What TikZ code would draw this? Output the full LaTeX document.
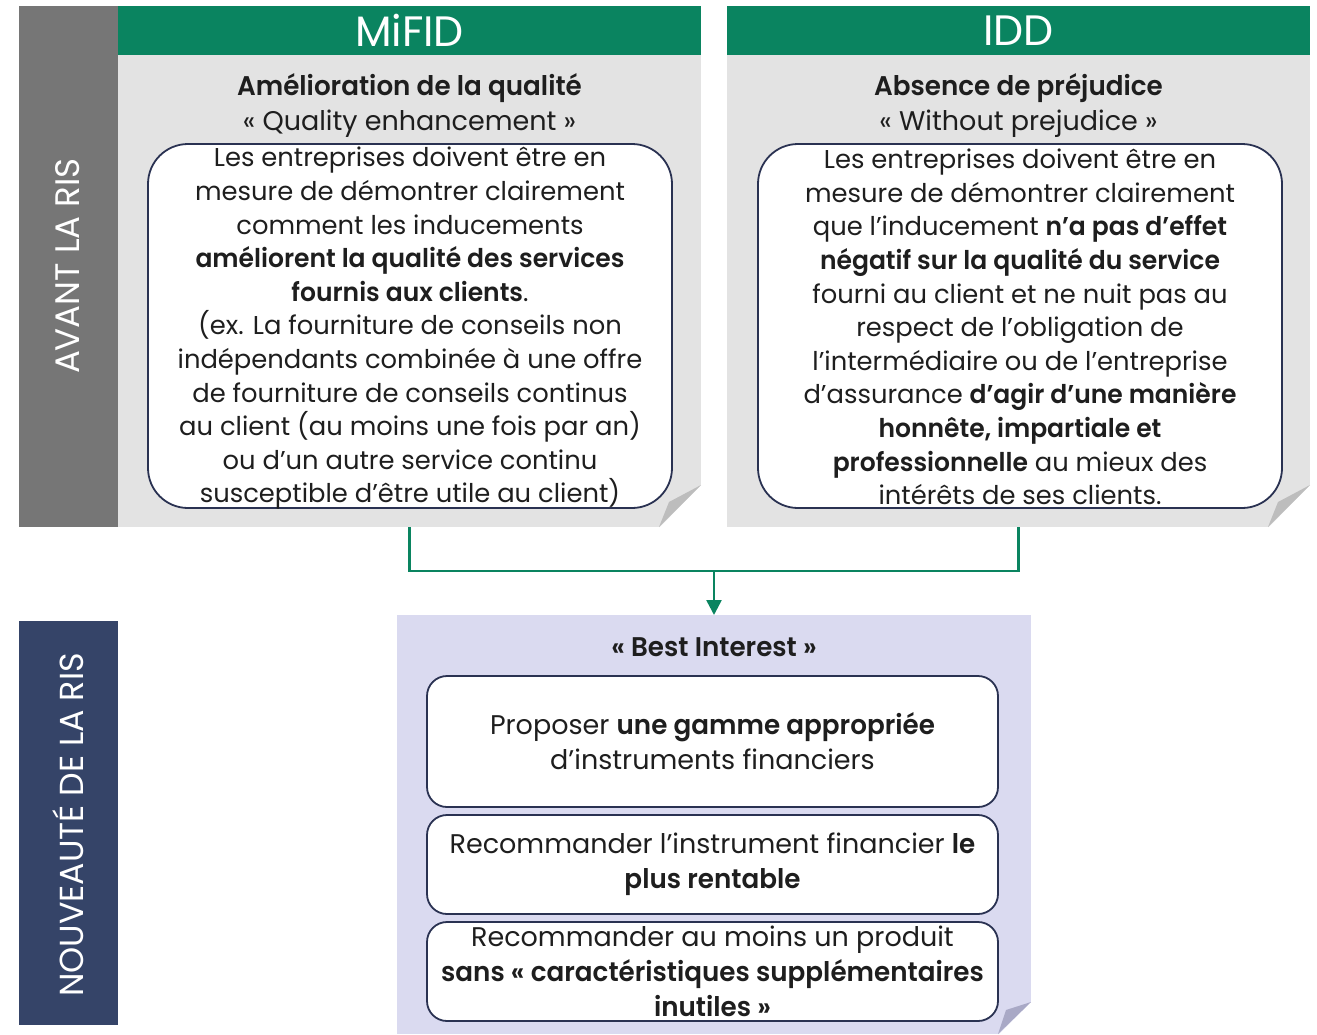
\documentclass[tikz,border=0pt]{standalone}
\usepackage{fontspec}
\setmainfont{Poppins}[BoldFont={Poppins SemiBold},BoldFeatures={FakeStretch=0.97}]
\usetikzlibrary{arrows.meta}
\definecolor{mgreen}{HTML}{0A8460}
\definecolor{bandgray}{HTML}{767676}
\definecolor{panelgray}{HTML}{E3E3E3}
\definecolor{foldgray}{HTML}{BDBDBD}
\definecolor{bandnavy}{HTML}{354468}
\definecolor{lav}{HTML}{DADAF0}
\definecolor{lavfold}{HTML}{A9A9C6}
\definecolor{boxline}{HTML}{2A3252}
\definecolor{txt}{HTML}{1E1E1E}
\begin{document}
\begin{tikzpicture}[x=1pt,y=-1pt,
  blk/.style={rectangle, inner sep=0pt, outer sep=0pt, anchor=north west, draw=none},
  bandtext/.style={text=white, rotate=90, font=\fontsize{34}{38}\selectfont},
  headtext/.style={text=white, font=\fontsize{42.5}{44}\selectfont},
  titletext/.style={text=txt, align=center, font=\fontsize{27}{35}\selectfont},
  bodytext/.style={text=txt, align=center, font=\fontsize{25.8}{33.6}\selectfont},
  wbox/.style={rectangle, draw=boxline, line width=1.8pt, fill=white, inner sep=0pt, align=center, text=txt},
  boxtext/.style={font=\fontsize{27}{35}\selectfont},
  conn/.style={draw=mgreen, line width=2.5pt}
]
\useasboundingbox (0,0) rectangle (1317,1034);

% ---- left bands
\node[blk, fill=bandgray, minimum width=99, minimum height=521] (bandA) at (19,6) {};
\node[bandtext] (bandAt) at (68,266) {AVANT LA RIS};
\node[blk, fill=bandnavy, minimum width=99, minimum height=404] (bandB) at (19,621) {};
\node[bandtext, font=\fontsize{33.3}{38}\selectfont] (bandBt) at (68,825) {NOUVEAUTÉ DE LA RIS};

% ---- MiFID panel
\node[blk, fill=panelgray, minimum width=583, minimum height=472] (pM) at (118,55) {};
\fill[white] (701,485) -- (701,528) -- (659,528) -- cycle;
\fill[foldgray] (701,485) -- (659,527) -- (669,502) -- cycle;
\node[blk, fill=mgreen, minimum width=583, minimum height=49] (hM) at (118,6) {};
\node[headtext] (hMt) at (hM.center) {MiFID};
\node[titletext] (tM) at (409.5,105) {\textbf{Amélioration de la qualité}\\« Quality enhancement »};
\node[wbox, rounded corners=40pt, minimum width=524, minimum height=364] (bM) at (410,326) {};
\node[bodytext] (bMt) at (410,328.5) {Les entreprises doivent être en\\
mesure de démontrer clairement\\
comment les inducements\\
\textbf{améliorent la qualité des services}\\
\textbf{fournis aux clients}.\\
(ex. La fourniture de conseils non\\
indépendants combinée à une offre\\
de fourniture de conseils continus\\
au client (au moins une fois par an)\\
ou d'un autre service continu\\
susceptible d'être utile au client)};

% ---- IDD panel
\node[blk, fill=panelgray, minimum width=583, minimum height=472] (pI) at (727,55) {};
\fill[white] (1310,485) -- (1310,528) -- (1268,528) -- cycle;
\fill[foldgray] (1310,485) -- (1268,527) -- (1278,502) -- cycle;
\node[blk, fill=mgreen, minimum width=583, minimum height=49] (hI) at (727,6) {};
\node[headtext] (hIt) at (hI.center) {IDD};
\node[titletext] (tI) at (1018.5,105.5) {\textbf{Absence de préjudice}\\« Without prejudice »};
\node[wbox, rounded corners=40pt, minimum width=524, minimum height=364] (bI) at (1020,326) {};
\node[bodytext] (bIt) at (1020,327) {Les entreprises doivent être en\\
mesure de démontrer clairement\\
que l’inducement \textbf{n’a pas d’effet}\\
\textbf{négatif sur la qualité du service}\\
fourni au client et ne nuit pas au\\
respect de l’obligation de\\
l’intermédiaire ou de l’entreprise\\
d’assurance \textbf{d’agir d’une manière}\\
\textbf{honnête, impartiale et}\\
\textbf{professionnelle} au mieux des\\
intérêts de ses clients.};

% ---- Best interest panel
\node[blk, fill=lav, minimum width=634, minimum height=419] (pB) at (397,615) {};
\fill[white] (1031,1002) -- (1031,1035) -- (998,1035) -- cycle;
\fill[lavfold] (1031,1002) -- (998,1034) -- (1006,1010) -- cycle;
\node[titletext] (tB) at (714,647) {\textbf{« Best Interest »}};
\node[wbox, boxtext, rounded corners=20pt, minimum width=571, minimum height=131] (b1) at (712.5,741.5)
  {Proposer \textbf{une gamme appropriée}\\d'instruments financiers};
\node[wbox, boxtext, rounded corners=20pt, minimum width=571, minimum height=99] (b2) at (712.5,864.5)
  {Recommander l’instrument financier \textbf{le}\\\textbf{plus rentable}};
\node[wbox, boxtext, rounded corners=20pt, minimum width=571, minimum height=99] (b3) at (712.5,971.5)
  {Recommander au moins un produit\\\textbf{sans « caractéristiques supplémentaires}\\\textbf{inutiles »}};

% ---- connectors
\coordinate (j) at (714,571);
\draw[conn] (pM.south) |- (j) -| (pI.south);
\draw[conn, -{Triangle[width=15pt,length=15pt]}] (j) -- (pB.north);
\end{tikzpicture}
\end{document}
